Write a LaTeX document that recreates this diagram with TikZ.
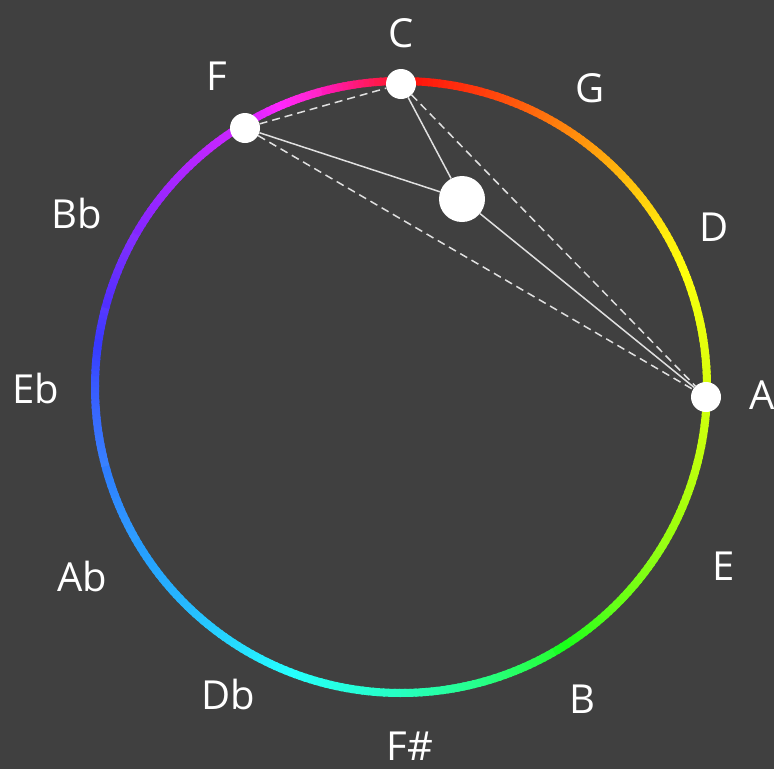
\documentclass[tikz,border=0pt]{standalone}
\usepackage{fontspec}
\setmainfont{Open Sans}
\begin{document}
\begin{tikzpicture}[x=1pt,y=-1pt,
  lbl/.style={text=white,font=\fontsize{40}{40}\selectfont,anchor=base,inner sep=0},
  dot/.style={circle,fill=white,inner sep=0,minimum size=30},
  bigdot/.style={circle,fill=white,inner sep=0,minimum size=46},
  solidln/.style={draw=white!88!black,line width=1.5},
  dashln/.style={draw=white!88!black,line width=1.5,dash pattern=on 8 off 5}]
\definecolor{bg}{HTML}{404040}
\fill[bg] (0,0) rectangle (774,769);
\useasboundingbox (0,0) rectangle (774,769);
\coordinate (O) at (401,387);
% colour ring: angle from top (clockwise) / hue at start / hue at end / saturation
\foreach \a/\ha/\hb/\s in {0/0/12/0.95, 15/12/28/0.95, 30/28/42/0.95, 45/42/56/0.95, 60/56/64/0.95, 75/64/70/0.95, 90/70/77/0.95, 105/77/86/0.95, 120/86/100/0.92, 135/100/125/0.9, 150/125/148/0.85, 165/148/163/0.85, 180/163/175/0.85, 195/175/188/0.85, 210/188/200/0.85, 225/200/208/0.85, 240/208/218/0.82, 255/218/230/0.78, 270/230/250/0.78, 285/250/266/0.82, 300/266/278/0.85, 315/278/288/0.85, 330/288/318/0.85, 345/318/360/0.9}{
  \foreach \i in {0,...,14}{
    \pgfmathsetmacro\t{\a+\i-90}
    \pgfmathsetmacro\h{mod(\ha+(\hb-\ha)*\i/15,360)}
    \definecolor{seg}{Hsb}{\h,\s,1}
    \draw[seg,line width=8] (O) ++(\t:306) arc[start angle=\t, end angle=\t+1.4, radius=306];
  }
}
% labels
\node[lbl] (lC) at (401,47) {C};
\node[lbl] (lG) at (590,102) {G};
\node[lbl] (lD) at (714,241) {D};
\node[lbl] (lA) at (762,409) {A};
\node[lbl] (lE) at (724,580) {E};
\node[lbl] (lB) at (582,713) {B};
\node[lbl] (lFs) at (410,760) {F\#};
\node[lbl] (lDb) at (228,709) {Db};
\node[lbl] (lAb) at (82,591) {Ab};
\node[lbl] (lEb) at (36,403) {Eb};
\node[lbl] (lBb) at (77,228) {Bb};
\node[lbl] (lF) at (217,90) {F};
% points
\node[dot] (C) at (401,84) {};
\node[dot] (F) at (245,128) {};
\node[dot] (A) at (706,397) {};
\node[bigdot] (M) at (462,199) {};
% connectors
\draw[dashln] (F) -- (C);
\draw[dashln] (C) -- (A);
\draw[dashln] (F) -- (A);
\draw[solidln] (F) -- (M);
\draw[solidln] (C) -- (M);
\draw[solidln] (A) -- (M);
\end{tikzpicture}
\end{document}
